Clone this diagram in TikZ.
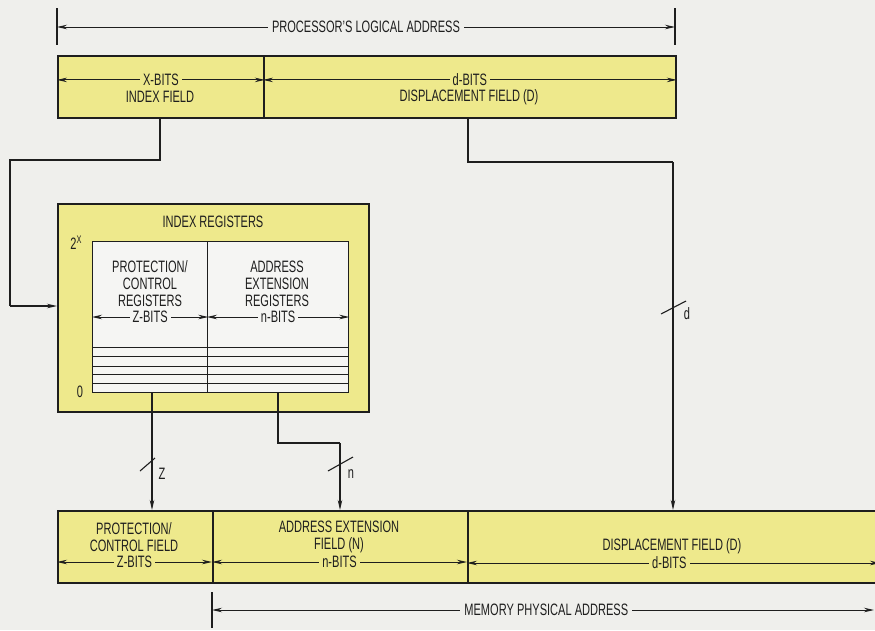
\documentclass[tikz,border=0pt]{standalone}
\usepackage{fontspec}
\setmainfont{Liberation Sans}[FakeStretch=0.67]
\usetikzlibrary{arrows.meta}
\definecolor{bg}{HTML}{EFEFEC}
\definecolor{fieldyellow}{HTML}{EEE98C}
\definecolor{ink}{HTML}{1E1E1E}
\definecolor{regwhite}{HTML}{F5F5F3}
\begin{document}
\begin{tikzpicture}[x=1pt,y=-1pt,
  every node/.style={font=\fontsize{16.5}{17}\selectfont, text=ink},
  field/.style={draw=ink, line width=1.8pt, fill=fieldyellow, inner sep=0pt, anchor=north west},
  regbox/.style={draw=ink, line width=1.3pt, fill=regwhite, inner sep=0pt, anchor=north west},
  dim/.style={draw=ink, line width=0.9pt, {Stealth[length=10pt,width=4.5pt]}-{Stealth[length=10pt,width=4.5pt]}},
  bus/.style={draw=ink, line width=1.1pt, -{Stealth[length=10pt,width=4.5pt]}},
  wire/.style={draw=ink, line width=1.1pt},
  lbl/.style={inner sep=0pt, align=center},
  ylab/.style={fill=fieldyellow, inner sep=3pt},
  wlab/.style={fill=regwhite, inner sep=3pt},
  blab/.style={fill=bg, inner sep=4pt},
  tick/.style={draw=ink, line width=1.1pt},
  slash/.style={draw=ink, line width=1.1pt}
]
\useasboundingbox (0,0) rectangle (875,630);
\fill[bg] (0,0) rectangle (875,630);
\clip (0,0) rectangle (875,630);

% ---------- processor logical address ----------
\draw[tick] (57,8) -- (57,45);
\draw[tick] (675,8) -- (675,45);
\coordinate (plaL) at (57,27);
\coordinate (plaR) at (675,27);
\draw[dim] (plaL) -- node[blab] (plaText) {PROCESSOR'S LOGICAL ADDRESS} (plaR);

% ---------- top fields ----------
\node[field, minimum width=206pt, minimum height=62pt] (xf) at (57,55) {};
\node[field, minimum width=412pt, minimum height=62pt] (df) at (263,55) {};
\draw[dim] ([yshift=7pt]xf.west) -- node[ylab] (xbits) {X-BITS} ([yshift=7pt]xf.east);
\node[lbl] (xname) at (160,97) {INDEX FIELD};
\draw[dim] ([yshift=7pt]df.west) -- node[ylab] (dbits) {d-BITS} ([yshift=7pt]df.east);
\node[lbl] (dname) at (469,97) {DISPLACEMENT FIELD (D)};

% ---------- index registers ----------
\node[field, minimum width=311pt, minimum height=208pt] (ireg) at (57,203) {};
\node[lbl] (iregTitle) at (213,222) {INDEX REGISTERS};
\node[regbox, minimum width=115pt, minimum height=151pt] (pcr) at (92,241) {};
\node[regbox, minimum width=141pt, minimum height=151pt] (aer) at (207,241) {};
\node[lbl] (pcrText) at (150,284) {PROTECTION/\\CONTROL\\REGISTERS};
\node[lbl] (aerText) at (277,284) {ADDRESS\\EXTENSION\\REGISTERS};
\draw[dim] ([yshift=-76pt]pcr.north west) -- node[wlab] (zbitsR) {Z-BITS} ([yshift=-76pt]pcr.north east);
\draw[dim] ([yshift=-76pt]aer.north west) -- node[wlab] (nbitsR) {n-BITS} ([yshift=-76pt]aer.north east);
\foreach \yy in {347,356,366,374,383} {
  \draw[ink, line width=0.9pt] (92,\yy) -- (348,\yy);
}
\node[lbl] (topIdx) at (76,243) {2\raisebox{6pt}{\fontsize{11}{11}\selectfont X}};
\node[lbl] (botIdx) at (80,392) {0};

% ---------- bottom fields ----------
\node[field, minimum width=155pt, minimum height=72pt] (pcf) at (57,510) {};
\node[field, minimum width=255pt, minimum height=72pt] (aef) at (212,510) {};
\node[field, minimum width=420pt, minimum height=72pt] (dpf) at (467,510) {};
\node[lbl] (pcfText) at (134,537) {PROTECTION/\\CONTROL FIELD};
\node[lbl] (aefText) at (339,537) {ADDRESS EXTENSION\\FIELD (N)};
\node[lbl] (dpfText) at (672,546) {DISPLACEMENT FIELD (D)};
\draw[dim] (57,562) -- node[ylab] (zbitsB) {Z-BITS} (212,562);
\draw[dim] (212,562) -- node[ylab] (nbitsB) {n-BITS} (467,562);
\draw[dim] (467,563) -- node[ylab, pos=0.49] (dbitsB) {d-BITS} (880,563);

% ---------- memory physical address ----------
\draw[tick] (212,592) -- (212,628);
\coordinate (mpaL) at (212,610);
\coordinate (mpaR) at (874,610);
\draw[dim] (mpaL) -- node[blab, pos=0.505] (mpaText) {MEMORY PHYSICAL ADDRESS} (mpaR);

% ---------- connectors ----------
\coordinate (x1) at (160,160);
\coordinate (x2) at (10,160);
\coordinate (x3) at (10,306);
\draw[wire] (xf.south -| x1) -- (x1) -- (x2) -- (x3);
\draw[bus] (x3) -- (x3 -| ireg.west);

\coordinate (d1) at (468,162);
\coordinate (d2) at (673,162);
\draw[wire] (df.south -| d1) -- (d1) -- (d2);
\draw[bus] (d2) -- (d2 |- dpf.north);

\coordinate (z1) at (152,392);
\draw[bus] (z1) -- (z1 |- pcf.north);

\coordinate (n1) at (278,392);
\coordinate (n2) at (278,443);
\coordinate (n3) at (340,443);
\draw[wire] (n1) -- (n2) -- (n3);
\draw[bus] (n3) -- (n3 |- aef.north);

% slashes and width labels
\draw[slash] (140,471) -- (155,458);
\node[lbl] (zlab) at (162,474) {Z};
\draw[slash] (328,471) -- (353,457);
\node[lbl] (nlab) at (351,474) {n};
\draw[slash] (661,314) -- (686,301);
\node[lbl] (dlab) at (687,314) {d};
\end{tikzpicture}
\end{document}
